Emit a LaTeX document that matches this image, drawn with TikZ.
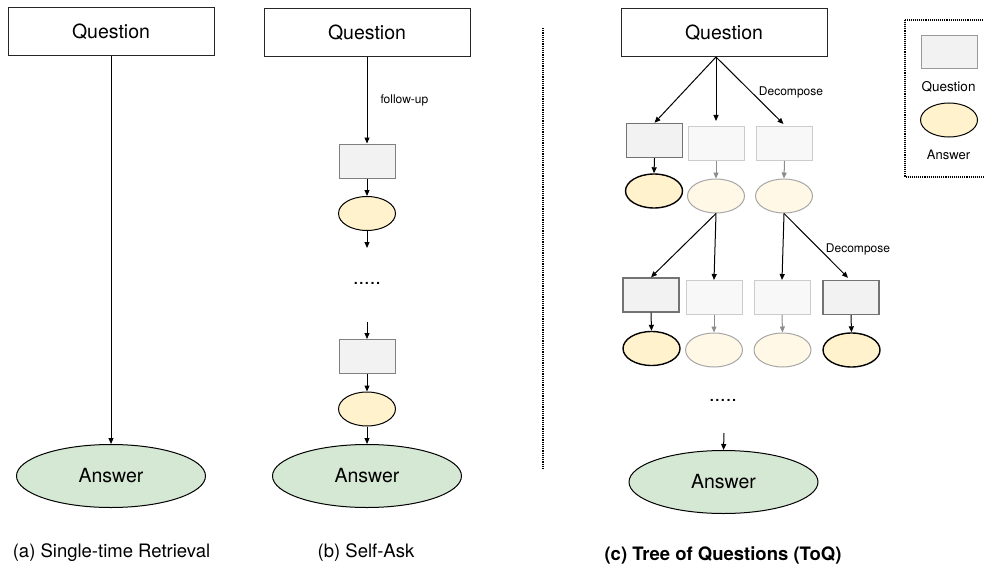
\documentclass[tikz,border=0pt]{standalone}
\usepackage{fontspec}
\setmainfont{TeX Gyre Heros}
\usetikzlibrary{shapes.geometric,arrows.meta,calc}
\definecolor{qfill}{HTML}{F2F2F2}
\definecolor{qfade}{HTML}{F8F8F8}
\definecolor{afill}{HTML}{FFF2CC}
\definecolor{afade}{HTML}{FFF8E6}
\definecolor{gfill}{HTML}{D5E8D4}
\tikzset{
  bigq/.style={draw=black!85, fill=white, line width=1pt, minimum width=206pt, minimum height=48pt, inner sep=0pt, font=\fontsize{19.5}{22}\selectfont},
  bigans/.style={ellipse, draw=black, fill=gfill, line width=1pt, minimum width=189pt, minimum height=63pt, inner sep=0pt, font=\fontsize{19.5}{22}\selectfont},
  smq/.style={draw=black!50, fill=qfill, line width=1pt, minimum width=56pt, minimum height=34pt, inner sep=0pt},
  smqa/.style={draw=black!55, fill=qfill, line width=1.4pt, minimum width=56pt, minimum height=34pt, inner sep=0pt},
  smqf/.style={draw=black!20, fill=qfade, line width=1pt, minimum width=56pt, minimum height=34pt, inner sep=0pt},
  sma/.style={ellipse, draw=black, fill=afill, line width=1pt, minimum width=57pt, minimum height=34pt, inner sep=0pt},
  smaa/.style={ellipse, draw=black, fill=afill, line width=1.4pt, minimum width=57pt, minimum height=34pt, inner sep=0pt},
  smaf/.style={ellipse, draw=black!35, fill=afade, line width=1pt, minimum width=57pt, minimum height=34pt, inner sep=0pt},
  arr/.style={-{Triangle[length=6pt,width=5pt]}, line width=1pt, black},
  arrf/.style={-{Triangle[length=6pt,width=5pt]}, line width=1pt, black!45},
  sepline/.style={densely dotted, line width=1.2pt, black},
  lbl/.style={font=\fontsize{12}{14}\selectfont, inner sep=0pt},
  captxt/.style={font=\fontsize{18.5}{21}\selectfont, inner sep=0pt},
  dotstxt/.style={font=\fontsize{20}{22}\selectfont, inner sep=0pt},
}
\begin{document}
\begin{tikzpicture}[x=1pt,y=-1pt]
\useasboundingbox (0,0) rectangle (984,567);
% (a)
\node[bigq] (qa) at (111,32) {Question};
\node[bigans] (ansa) at (111,476) {Answer};
\draw[arr] (qa.south) -- (ansa.north);
\node[captxt] (capa) at (111.5,553) {(a) Single-time Retrieval};
% (b)
\node[bigq] (qb) at (367,33) {Question};
\node[smq] (bq1) at (367,161) {};
\node[sma] (ba1) at (367,213.5) {};
\coordinate (bf1) at (367,248);
\node[dotstxt] (bdots) at (367,283) {.....};
\coordinate (bf2) at (367,322);
\node[smq] (bq2) at (367,356.5) {};
\node[sma] (ba2) at (367,409) {};
\node[bigans] (ansb) at (367,476) {Answer};
\draw[arr] (qb.south) -- node[lbl, right=13pt, pos=0.5] {follow-up} (bq1.north);
\draw[arr] (bq1.south) -- (ba1.north);
\draw[arr] (ba1.south) -- (bf1);
\draw[arr] (bf2) -- (bq2.north);
\draw[arr] (bq2.south) -- (ba2.north);
\draw[arr] (ba2.south) -- (ansb.north);
\node[captxt] (capb) at (366,553) {(b) Self-Ask};
% separator
\coordinate (s1) at (543,28);
\coordinate (s2) at (543,469);
\draw[sepline] (s1) -- (s2);
% (c)
\node[bigq] (qc) at (724,33) {Question};
\coordinate (qcs) at (716,57);
\node[smqa] (r1b1) at (654.5,140.5) {};
\node[smqf] (r1b2) at (716,143.5) {};
\node[smqf] (r1b3) at (784.5,143.5) {};
\node[smaa] (r1e1) at (654,191) {};
\node[smaf] (r1e2) at (716,196) {};
\node[smaf] (r1e3) at (784,196) {};
\draw[arr] (qcs) -- (r1b1.north);
\draw[arr] (qcs) -- ($(r1b2.north)+(0,-5)$);
\draw[arr] (qcs) -- ($(r1b3.north)+(-1,-2)$);
\node[lbl] (dec1) at (791,92) {Decompose};
\draw[arr] (r1b1.south) -- (r1e1.north);
\draw[arrf] (r1b2.south) -- (r1e2.north);
\draw[arrf] (r1b3.south) -- (r1e3.north);
\node[smqa] (r2b1) at (651,295) {};
\node[smqf] (r2b2) at (714,297.5) {};
\node[smqf] (r2b3) at (782,297.5) {};
\node[smqa] (r2b4) at (851,297.5) {};
\node[smaa] (r2e1) at (651.5,348.5) {};
\node[smaf] (r2e2) at (714,350) {};
\node[smaf] (r2e3) at (782.5,350) {};
\node[smaa] (r2e4) at (851.5,350) {};
\draw[arr] (r1e2.south) -- (r2b1.north);
\draw[arr] (r1e2.south) -- (r2b2.north);
\draw[arr] (r1e3.south) -- (r2b3.north);
\draw[arr] (r1e3.south) -- ($(r2b4.north)+(-3,-2)$);
\node[lbl] (dec2) at (858,249) {Decompose};
\draw[arr] (r2b1.south) -- (r2e1.north);
\draw[arrf] (r2b2.south) -- (r2e2.north);
\draw[arrf] (r2b3.south) -- (r2e3.north);
\draw[arr] (r2b4.south) -- (r2e4.north);
\node[dotstxt] (cdots) at (723,400) {.....};
\coordinate (cf) at (724,433);
\node[bigans] (ansc) at (723.5,482) {Answer};
\draw[arr] (cf) -- (ansc.north);
\node[captxt, font=\fontsize{18.5}{21}\selectfont\bfseries] (capc) at (723,555) {(c) Tree of Questions (ToQ)};
% legend
\begin{scope}
\clip (0,0) rectangle (984,567);
\coordinate (l1) at (905,20);
\coordinate (l2) at (995,177);
\draw[sepline, line width=1.1pt] (l1) rectangle (l2);
\end{scope}
\node[smq, draw=black!40, minimum width=56pt, minimum height=33pt] (lq) at (949,52.5) {};
\node[font=\fontsize{13.5}{16}\selectfont, inner sep=0pt] (lqt) at (948.5,87) {Question};
\node[sma] (la) at (949,120) {};
\node[font=\fontsize{13}{16}\selectfont, inner sep=0pt] (lat) at (948.5,155) {Answer};
\end{tikzpicture}
\end{document}
